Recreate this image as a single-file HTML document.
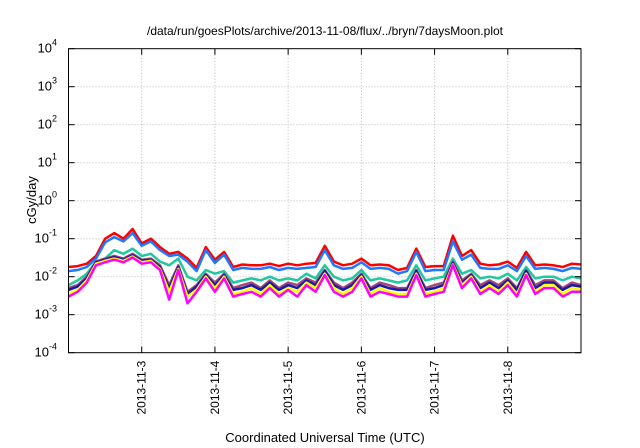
<!DOCTYPE html>
<html><head><meta charset="utf-8"><style>
body{margin:0;background:#fff;}
svg{display:block;font-family:"Liberation Sans",sans-serif;}
</style></head><body>
<svg id="chart" width="640" height="448">
<rect x="0" y="0" width="640" height="448" fill="#fff"/>
<text x="325" y="35" text-anchor="middle" font-size="12">/data/run/goesPlots/archive/2013-11-08/flux/../bryn/7daysMoon.plot</text>
<text x="325" y="442" text-anchor="middle" font-size="13">Coordinated Universal Time (UTC)</text>
<text transform="translate(36,200) rotate(-90)" text-anchor="middle" font-size="13">cGy/day</text>
<g id="grid"></g><g id="series"></g><g id="axes"></g>
</svg>
<script>
const dayLabels=["2013-11-3","2013-11-4","2013-11-5","2013-11-6","2013-11-7","2013-11-8"];
const yExps=[-4,-3,-2,-1,0,1,2,3,4];
const stepHours=3;
const red=[0.018,0.019,0.022,0.035,0.1,0.14,0.1,0.18,0.075,0.1,0.06,0.04,0.045,0.03,0.017,0.06,0.028,0.045,0.018,0.021,0.02,0.02,0.022,0.019,0.022,0.02,0.022,0.023,0.065,0.025,0.02,0.022,0.03,0.02,0.021,0.02,0.015,0.017,0.055,0.018,0.019,0.019,0.12,0.035,0.05,0.022,0.02,0.021,0.025,0.017,0.045,0.02,0.021,0.02,0.018,0.022,0.021];
const blue=[0.014,0.015,0.018,0.03,0.08,0.11,0.085,0.14,0.065,0.085,0.05,0.035,0.038,0.025,0.014,0.05,0.023,0.038,0.015,0.017,0.016,0.016,0.018,0.015,0.017,0.016,0.017,0.018,0.05,0.02,0.016,0.017,0.024,0.016,0.017,0.016,0.012,0.014,0.045,0.014,0.015,0.015,0.085,0.028,0.038,0.017,0.016,0.016,0.02,0.014,0.035,0.016,0.017,0.016,0.014,0.017,0.016];
const teal=[0.006,0.008,0.012,0.025,0.03,0.05,0.04,0.055,0.035,0.04,0.025,0.02,0.03,0.01,0.008,0.015,0.012,0.014,0.007,0.008,0.009,0.008,0.01,0.008,0.009,0.008,0.012,0.009,0.02,0.01,0.008,0.009,0.015,0.008,0.009,0.008,0.007,0.008,0.02,0.008,0.009,0.01,0.03,0.012,0.015,0.009,0.01,0.009,0.012,0.008,0.018,0.009,0.01,0.01,0.008,0.01,0.009];
const purple=[0.005,0.006,0.01,0.025,0.03,0.035,0.03,0.04,0.028,0.03,0.02,0.006,0.02,0.004,0.006,0.012,0.007,0.012,0.005,0.006,0.007,0.005,0.008,0.005,0.007,0.006,0.009,0.007,0.015,0.007,0.005,0.007,0.012,0.005,0.007,0.006,0.005,0.005,0.015,0.005,0.006,0.007,0.025,0.008,0.012,0.006,0.008,0.006,0.009,0.005,0.015,0.006,0.008,0.008,0.005,0.007,0.006];
const navy=[0.0045,0.0055,0.009,0.024,0.028,0.033,0.028,0.037,0.026,0.028,0.018,0.005,0.018,0.0035,0.0055,0.011,0.006,0.011,0.0045,0.005,0.006,0.0045,0.007,0.0045,0.006,0.005,0.008,0.006,0.014,0.006,0.0045,0.006,0.011,0.0045,0.006,0.005,0.0045,0.0045,0.014,0.0045,0.005,0.006,0.023,0.007,0.011,0.005,0.007,0.005,0.008,0.0045,0.014,0.005,0.007,0.007,0.0045,0.006,0.0055];
const yellow=[0.0035,0.0045,0.008,0.022,0.026,0.03,0.026,0.034,0.024,0.026,0.016,0.004,0.016,0.003,0.0045,0.01,0.005,0.01,0.0035,0.004,0.005,0.0035,0.006,0.0035,0.005,0.004,0.007,0.005,0.012,0.005,0.0035,0.005,0.01,0.0035,0.005,0.004,0.0035,0.0035,0.012,0.0035,0.004,0.005,0.021,0.006,0.01,0.004,0.006,0.004,0.007,0.0035,0.012,0.004,0.006,0.006,0.0035,0.005,0.0045];
const magenta=[0.003,0.004,0.007,0.02,0.024,0.028,0.024,0.032,0.022,0.024,0.015,0.0025,0.015,0.002,0.004,0.009,0.004,0.009,0.003,0.0035,0.004,0.003,0.005,0.003,0.0045,0.003,0.006,0.004,0.011,0.004,0.003,0.004,0.009,0.003,0.004,0.0035,0.003,0.003,0.011,0.003,0.0035,0.004,0.02,0.005,0.009,0.0035,0.005,0.0035,0.006,0.003,0.011,0.0035,0.005,0.005,0.003,0.004,0.004];
const L=68.5,R=581,T=48.7,B=352.7,H=168;
const xs=h=>L+h/H*(R-L);
const ys=v=>B-(Math.log10(v)+4)/8*(B-T);
const NS="http://www.w3.org/2000/svg";
function mk(tag,attrs,parent){const e=document.createElementNS(NS,tag);for(const k in attrs)e.setAttribute(k,attrs[k]);parent.appendChild(e);return e;}
const grid=document.getElementById('grid'),axes=document.getElementById('axes'),ser=document.getElementById('series');
yExps.forEach(p=>{const y=ys(Math.pow(10,p));
 if(p>-4&&p<4){const g=mk('line',{x1:L,x2:R,y1:y,y2:y,stroke:'#bbb','stroke-dasharray':'1,2','stroke-width':1},grid);
 
 }
 const t=mk('line',{x1:L,x2:L+6,y1:y,y2:y,stroke:'#000'},axes);
 
 
 const t2=mk('line',{x1:R-6,x2:R,y1:y,y2:y,stroke:'#000'},axes);
 
 
 const tx=mk('text',{x:57,y:y+4,'text-anchor':'end','font-size':13},axes);
 
 
 tx.textContent='10';
 const sp=mk('tspan',{dy:-7,'font-size':9},tx);sp.textContent=String(p);
});
dayLabels.forEach((d,i)=>{const x=xs((i+1)*24);
 const g=mk('line',{x1:x,x2:x,y1:T,y2:B,stroke:'#bbb','stroke-dasharray':'1,2'},grid);
 
 
 const t=mk('line',{x1:x,x2:x,y1:B-6,y2:B,stroke:'#000'},axes);
 
 
 const t2=mk('line',{x1:x,x2:x,y1:T,y2:T+6,stroke:'#000'},axes);
 
 
 const tx=mk('text',{transform:`translate(${x+4},${B+8}) rotate(-90)`,'text-anchor':'end','font-size':12},axes);
 
 
 tx.textContent=d;
});
const fr=mk('rect',{x:L,y:T,width:R-L,height:B-T,fill:'none',stroke:'#000','stroke-width':1},axes);


const series=[["red",red,"#ff0000"],["blue",blue,"#1f78ff"],["teal",teal,"#20c8a0"],["purple",purple,"#a04878"],["navy",navy,"#1a1aa8"],["yellow",yellow,"#ffff00"],["magenta",magenta,"#ff00ff"]];
series.forEach(([n,arr,c])=>{
 const pts=arr.map((v,i)=>xs(i*stepHours).toFixed(1)+','+ys(v).toFixed(1)).join(' ');
 const pl=mk('polyline',{points:pts,fill:'none',stroke:c,'stroke-width':2.5,'stroke-linejoin':'round'},ser);
 
 
});
</script>
</body></html>
